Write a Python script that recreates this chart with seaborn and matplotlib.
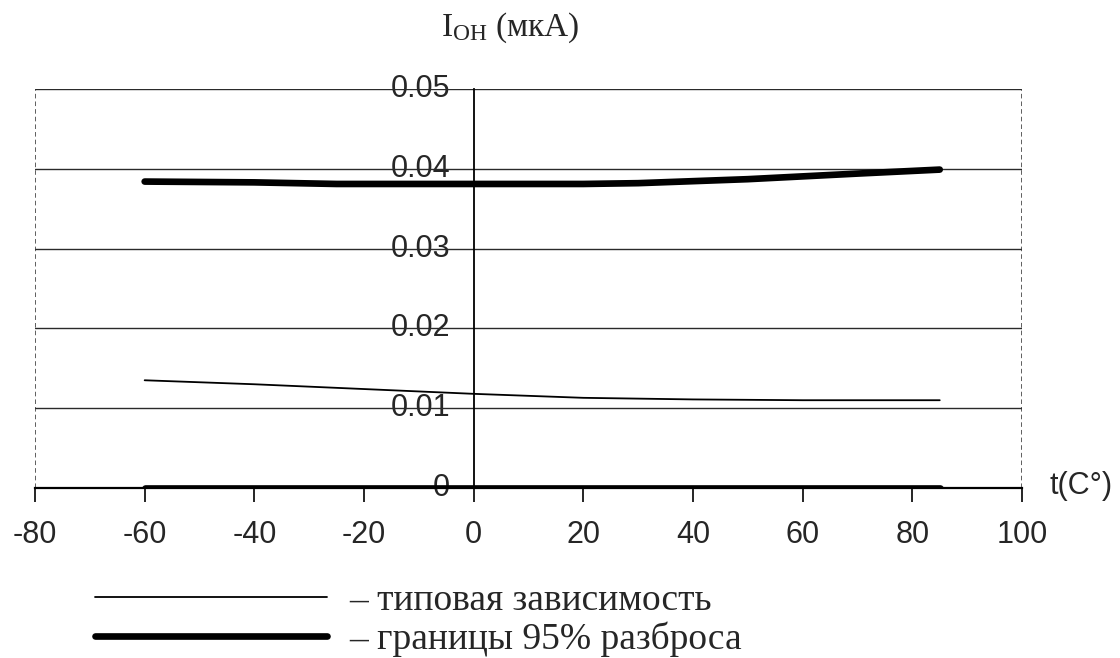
import matplotlib
matplotlib.use("Agg")
import matplotlib.pyplot as plt
import seaborn as sns
import pandas as pd

# ---- data ----
t_typ = [-60, -40, -20, 0, 20, 40, 60, 85]
i_typ = [0.0135, 0.0130, 0.0124, 0.0118, 0.0113, 0.0111, 0.0110, 0.0110]

t_up = [-60, -40, -25, 0, 20, 30, 50, 70, 85]
i_up = [0.0384, 0.0383, 0.0381, 0.0381, 0.0381, 0.0382, 0.0387, 0.0394, 0.0399]

t_low = [-60, 0, 85]
i_low = [0.0, 0.0, 0.0]

x_ticks = [-80, -60, -40, -20, 0, 20, 40, 60, 80, 100]
x_tick_labels = ["-80", "-60", "-40", "-20", "0", "20", "40", "60", "80", "100"]
y_ticks = [0.0, 0.01, 0.02, 0.03, 0.04, 0.05]
y_tick_labels = ["0", "0.01", "0.02", "0.03", "0.04", "0.05"]

label_typ = "– типовая зависимость"
label_band = "– границы 95% разброса"
y_title = r"$\mathrm{I_{OH}}$ (мкА)"
x_title = "t(C°)"

# ---- style ----
sns.set_style("white")
plt.rcParams["font.family"] = ["Liberation Sans", "DejaVu Sans"]
plt.rcParams["mathtext.fontset"] = "custom"
plt.rcParams["mathtext.rm"] = "Liberation Serif"
plt.rcParams["mathtext.it"] = "Liberation Serif:italic"

fig = plt.figure(figsize=(11.2, 6.58), dpi=100)
ax = fig.add_axes([35 / 1120, (658 - 488) / 658, 987 / 1120, 399 / 658])

df_typ = pd.DataFrame({"t": t_typ, "I": i_typ})
df_up = pd.DataFrame({"t": t_up, "I": i_up})
df_low = pd.DataFrame({"t": t_low, "I": i_low})

# grid lines
for yv in y_ticks[1:]:
    ax.axhline(yv, color="#2a2a2a", lw=1.0, zorder=1)
# dotted frame borders
ax.axvline(-80, color="#333333", lw=1.1, ls=(0, (3, 2)), zorder=1)
ax.axvline(100, color="#333333", lw=1.1, ls=(0, (3, 2)), zorder=1)

sns.lineplot(data=df_typ, x="t", y="I", ax=ax, color="black", lw=1.3,
             label=label_typ, zorder=3)
sns.lineplot(data=df_up, x="t", y="I", ax=ax, color="black", lw=4.8,
             label=label_band, zorder=3, solid_capstyle="round")
sns.lineplot(data=df_low, x="t", y="I", ax=ax, color="black", lw=4.8,
             zorder=3, solid_capstyle="round")

ax.set_xlim(-80, 100)
ax.set_ylim(0, 0.05)
ax.set_xlabel("")
ax.set_ylabel("")

ax.spines["top"].set_visible(False)
ax.spines["right"].set_visible(False)
ax.spines["left"].set_position(("data", 0))
ax.spines["left"].set_color("black")
ax.spines["left"].set_linewidth(1.3)
ax.spines["bottom"].set_color("black")
ax.spines["bottom"].set_linewidth(1.6)

ax.set_xticks(x_ticks)
ax.set_xticklabels(x_tick_labels)
ax.set_yticks(y_ticks)
ax.set_yticklabels(y_tick_labels)
ax.tick_params(axis="x", direction="out", length=10, width=1.2, color="black",
               labelsize=22, pad=13, bottom=True)
ax.tick_params(axis="y", direction="out", length=0, labelsize=22, pad=17, left=True)
for lab in ax.get_yticklabels():
    lab.set_verticalalignment("center")

# axis titles
fig.text(510 / 1120, 1 - 28 / 658, y_title, ha="center", va="center",
         fontsize=24, family=["Liberation Serif", "DejaVu Serif"])
fig.text(1050 / 1120, 1 - 486 / 658, x_title, ha="left", va="center", fontsize=22)

# legend
leg = ax.legend(loc="upper left", bbox_to_anchor=(76 / 1120, 1 - 565 / 658),
                bbox_transform=fig.transFigure, frameon=False, borderpad=0.0,
                handlelength=6.19, handletextpad=0.59, labelspacing=0.08,
                prop={"family": ["Liberation Serif", "DejaVu Serif"], "size": 27})

fig.savefig("out.png", dpi=100, facecolor="white")
